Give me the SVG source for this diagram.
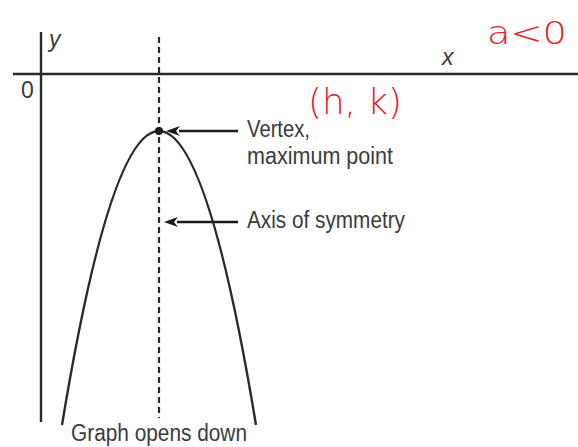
<svg xmlns="http://www.w3.org/2000/svg" width="578" height="447" viewBox="0 0 578 447">
<style>
.ax{stroke:#2a2a2a;stroke-width:2.4;fill:none}
.lbl{font-family:"Liberation Sans",Arial,sans-serif;fill:#3c3c3c;font-size:23px}
.it{font-style:italic}
.hand{font-family:"DejaVu Sans",sans-serif;fill:#e8202a;font-weight:300}
</style>
<defs>
<marker id="ah" viewBox="0 0 14 10" refX="1" refY="5" markerWidth="14" markerHeight="10" markerUnits="userSpaceOnUse" orient="auto-start-reverse">
<path d="M14,5 L0,0 L4,5 L0,10 Z" fill="#1a1a1a"/>
</marker>
</defs>
<rect width="578" height="447" fill="#fff"/>
<g id="axes">
<line class="ax" x1="41" y1="32" x2="41" y2="422"/>
<line class="ax" x1="13" y1="74" x2="578" y2="74"/>
<text class="lbl it" x="49" y="47" font-size="21">y</text>
<text class="lbl it" x="442" y="65" font-size="21">x</text>
<text class="lbl" x="21" y="98" font-size="22">0</text>
</g>
<g id="symmetry-axis">
<line x1="159" y1="37" x2="159" y2="418" stroke="#2a2a2a" stroke-width="2.2" stroke-dasharray="6,4"/>
</g>
<g id="parabola">
<path class="ax" d="M62,425 Q159,-163 256,425"/>
<circle cx="159" cy="131" r="4" fill="#1a1a1a"/>
</g>
<g id="connectors">
<line x1="238" y1="131" x2="179" y2="131" stroke="#1a1a1a" stroke-width="2.4" marker-end="url(#ah)"/>
<line x1="238" y1="222" x2="177" y2="222" stroke="#1a1a1a" stroke-width="2.4" marker-end="url(#ah)"/>
</g>
<g id="vertex-label">
<text class="lbl" x="247" y="137" textLength="63" lengthAdjust="spacingAndGlyphs">Vertex,</text>
<text class="lbl" x="247" y="164" textLength="146" lengthAdjust="spacingAndGlyphs">maximum point</text>
</g>
<g id="axis-label">
<text class="lbl" x="247" y="228" textLength="158" lengthAdjust="spacingAndGlyphs">Axis of symmetry</text>
</g>
<g id="caption">
<text class="lbl" x="71" y="441" font-size="20" textLength="176" lengthAdjust="spacingAndGlyphs">Graph opens down</text>
</g>
<g id="annotations">
<text class="hand" x="487" y="44" font-size="32" textLength="80" lengthAdjust="spacingAndGlyphs">a&lt;0</text>
<text class="hand" x="308" y="114" font-size="36" textLength="94" lengthAdjust="spacingAndGlyphs">(h, k)</text>
</g>
</svg>
